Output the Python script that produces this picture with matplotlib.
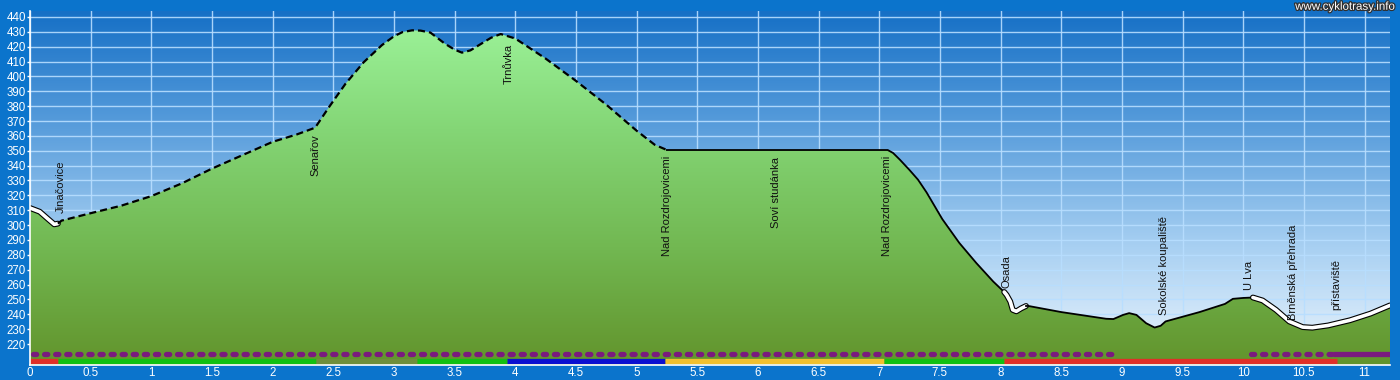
import numpy as np
import matplotlib
matplotlib.use('Agg')
import matplotlib.pyplot as plt
from matplotlib import patheffects
from matplotlib.colors import LinearSegmentedColormap
from matplotlib.patches import Polygon

plt.rcParams['font.family'] = ['Liberation Sans', 'DejaVu Sans']

# profil trasy: vzdalenost [km] a nadmorska vyska [m]
km = [0, 0.08, 0.15, 0.2, 0.23, 0.26, 0.5, 0.75, 1.0, 1.25, 1.5, 1.75, 2.0, 2.2, 2.35,
      2.47, 2.6, 2.75, 2.9, 3.0, 3.07, 3.15, 3.22, 3.3, 3.42, 3.5, 3.56, 3.63, 3.7, 3.8,
      3.88, 4.0, 4.25, 4.5, 4.75, 5.0, 5.15, 5.25, 7.07, 7.114, 7.17, 7.25, 7.32, 7.39,
      7.52, 7.66, 7.8, 7.94, 8.03, 8.05, 8.08, 8.1, 8.13, 8.17, 8.21, 8.23, 8.5, 8.87,
      8.93, 9.01, 9.06, 9.12, 9.2, 9.27, 9.32, 9.36, 9.64, 9.85, 9.915, 10.0, 10.08, 10.16,
      10.27, 10.38, 10.49, 10.57, 10.7, 10.88, 11.05, 11.21]
elev = [311.5, 309, 304, 300.5, 301, 303, 308, 313, 319.5, 328, 338, 347, 356, 361, 365.5,
        380, 395, 409.5, 421, 427, 429.8, 431, 430.8, 429.5, 422, 418, 416, 417.5, 421, 426,
        428.5, 425.5, 412, 397, 381, 363.5, 354, 350.5, 350.5, 348.5, 344, 337, 330.5, 322,
        304, 288, 274.5, 262, 255, 253, 248.6, 243, 242, 244, 245.6, 245.6, 241.5, 237,
        236.8, 239.6, 240.8, 239.6, 234, 231.1, 232.3, 235.2, 241.5, 247, 250.4, 251, 251.3, 249.3,
        243, 235.2, 231.4, 231, 232.5, 236, 240.5, 246]

# zpusob kresleni profilu (useky trasy)
line_start = [0, 0.23, 5.25, 8.03, 8.21, 10.08]
line_end = [0.23, 5.25, 8.03, 8.21, 10.08, 11.21]
line_kind = ['white', 'dashed', 'solid', 'white', 'solid', 'white']

# popisky bodu na trase
place_names = ['Jinačovice', 'Senařov', 'Trnůvka', 'Nad Rozdrojovicemi', 'Soví studánka',
               'Nad Rozdrojovicemi', 'Osada', 'Sokolské koupaliště', 'U Lva',
               'Brněnská přehrada', 'přístaviště']
place_km = [0.25, 2.35, 3.95, 5.25, 6.15, 7.06, 8.05, 9.35, 10.05, 10.41, 10.77]
place_top = [343.5, 361, 422, 346.5, 345.5, 346.5, 279.5, 306, 276, 300.5, 277]

# barevny pruh povrchu
surf_start = [0, 0.23, 2.36, 3.19, 3.93, 5.23, 7.04, 8.03]
surf_end = [0.23, 2.36, 3.19, 3.93, 5.23, 7.04, 8.03, 10.77]
surf_color = ['#e03028', '#12c012', '#6f8f3c', '#12c012', '#0c10d0', '#f0c030', '#12c012', '#e03028']

# fialovy pruh (tecky / plna cara)
purple_start = [0, 10.04, 10.74]
purple_end = [8.92, 10.74, 11.21]
purple_dotted = [True, True, False]

bg = '#0b74cc'
xmin, xmax = 0, 11.21
ymin, ymax = 205.9, 444

fig = plt.figure(figsize=(14, 3.8), dpi=100, facecolor=bg)
ax = fig.add_axes([30 / 1400, 15 / 380, 1360 / 1400, 354 / 380])
ax.set_xlim(xmin, xmax)
ax.set_ylim(ymin, ymax)

# nebe - prechod barev
sky = LinearSegmentedColormap.from_list('sky', ['#1670c6', '#5a9edc', '#a8d0f2', '#eef6fd'])
ax.imshow(np.linspace(0, 1, 256).reshape(-1, 1), cmap=sky, aspect='auto',
          extent=[xmin, xmax, ymin, ymax], zorder=0)

# mrizka
ax.set_xticks(np.arange(0, 11.01, 0.5))
ax.set_xticklabels([f'{v:g}' for v in np.arange(0, 11.01, 0.5)])
ax.set_yticks(range(220, 441, 10))
ax.set_axisbelow(True)
ax.grid(True, color='#b8deff', lw=1, alpha=0.9)

# vypln profilu - zelena s prechodem
verts = [(km[0], ymin)] + list(zip(km, elev)) + [(km[-1], ymin)]
poly = Polygon(verts, closed=True, facecolor='none', edgecolor='none')
ax.add_patch(poly)
green = LinearSegmentedColormap.from_list('green', ['#9ef59c', '#84d676', '#72b852', '#62942c'])
img = ax.imshow(np.linspace(0, 1, 256).reshape(-1, 1), cmap=green, aspect='auto',
                extent=[xmin, xmax, ymin, ymax], zorder=2)
img.set_clip_path(poly)

# obrys profilu
km_a = np.array(km)
elev_a = np.array(elev)
for a, b, kind in zip(line_start, line_end, line_kind):
    m = (km_a >= a - 1e-9) & (km_a <= b + 1e-9)
    if kind == 'white':
        ax.plot(km_a[m], elev_a[m], color='white', lw=2.6, solid_capstyle='round',
                solid_joinstyle='round', zorder=4,
                path_effects=[patheffects.Stroke(linewidth=4.2, foreground='black'),
                              patheffects.Normal()])
    elif kind == 'dashed':
        ax.plot(km_a[m], elev_a[m], color='black', lw=1.6, linestyle=(0, (3.2, 1.8)), zorder=4)
    else:
        ax.plot(km_a[m], elev_a[m], color='black', lw=1.3, zorder=4)

# popisky
for name, x, top in zip(place_names, place_km, place_top):
    ax.text(x, top, name, rotation=90, ha='center', va='top', fontsize=8, color='#101010', zorder=5)

# pruhy dole
for a, b, c in zip(surf_start, surf_end, surf_color):
    ax.plot([a, b], [208.8, 208.8], color=c, lw=3.8, solid_capstyle='butt', zorder=5)
for a, b, dotted in zip(purple_start, purple_end, purple_dotted):
    if dotted:
        ax.plot([a + 0.025, b], [213.4, 213.4], color='#7a1a7e', lw=3.8, linestyle=(0, (0.6, 1.5)),
                dash_capstyle='round', zorder=5)
    else:
        ax.plot([a, b], [213.4, 213.4], color='#7a1a7e', lw=3.8, solid_capstyle='butt', zorder=5)

# osy
for s in ['top', 'right']:
    ax.spines[s].set_visible(False)
for s in ['left', 'bottom']:
    ax.spines[s].set_color('white')
    ax.spines[s].set_linewidth(1.2)
    ax.spines[s].set_zorder(6)
ax.tick_params(axis='y', colors='white', labelsize=8.3, length=2.5, width=1, pad=0.5)
ax.tick_params(axis='x', colors='white', labelsize=8.3, length=0, pad=1.5)

fig.text(0.996, 0.998, 'www.cyklotrasy.info', ha='right', va='top', fontsize=8.3, color='white',
         path_effects=[patheffects.withStroke(linewidth=1.8, foreground='#303030')])

fig.savefig('out.png', dpi=100, facecolor=bg)
